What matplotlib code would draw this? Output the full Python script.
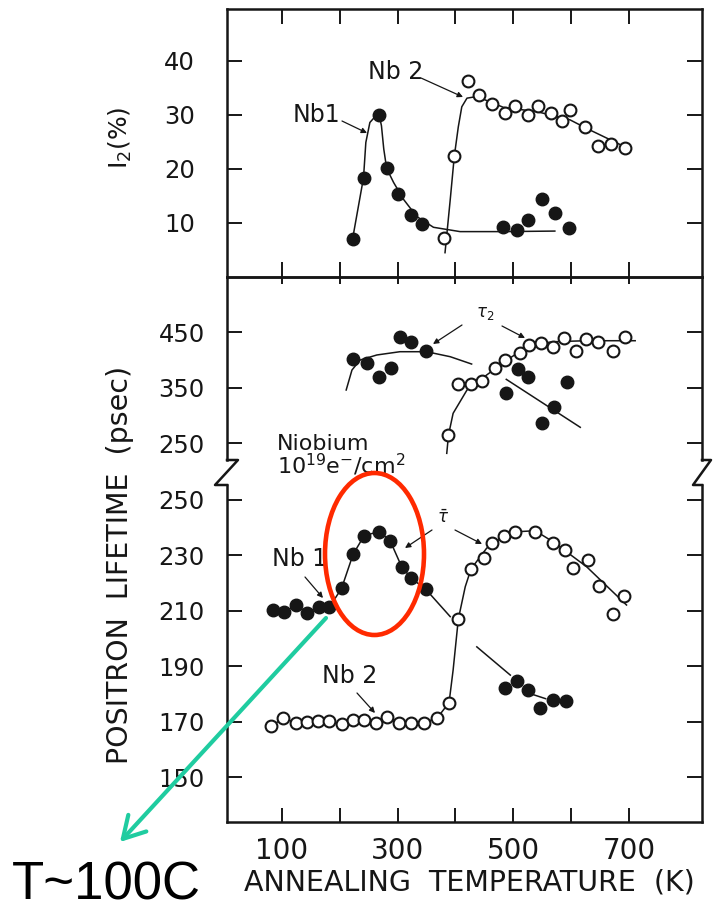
import matplotlib.pyplot as plt
from matplotlib.patches import Ellipse
from matplotlib.lines import Line2D

# ---- I2 (%) vs annealing temperature ----
nb1_i2_T = [222, 241, 268, 281, 301, 323, 343, 482, 506, 526, 549, 572, 597]
nb1_i2 = [7.0, 18.4, 30.0, 20.1, 15.3, 11.5, 9.8, 9.3, 8.7, 10.6, 14.4, 11.8, 9.0]
nb1_i2_fit_T = [222, 241, 245, 252, 262, 268, 272, 276, 281, 293, 310, 333, 362, 408, 483, 572]
nb1_i2_fit = [7.0, 18.4, 24.9, 28.6, 29.8, 30.0, 28.0, 23.7, 20.1, 17.5, 14.4, 11.2, 9.2, 8.4, 8.4, 8.5]

nb2_i2_T = [381, 398, 422, 441, 464, 486, 503, 526, 543, 565, 585, 598, 625, 646, 670, 693]
nb2_i2 = [7.2, 22.4, 36.2, 33.7, 32.0, 30.3, 31.7, 30.0, 31.7, 30.4, 28.9, 31.0, 27.8, 24.3, 24.6, 23.8]
nb2_i2_fit_T = [382, 391, 398, 405, 411, 420, 437, 483, 541, 598, 627, 693]
nb2_i2_fit = [4.5, 14.3, 22.3, 27.8, 31.5, 33.1, 33.4, 31.4, 30.6, 29.1, 27.5, 24.1]

# ---- tau2 (psec) ----
nb1_tau2_T = [223, 247, 268, 289, 304, 324, 349, 488, 508, 526, 549, 571, 593]
nb1_tau2 = [400.8, 393.6, 369.5, 385.8, 441.6, 431.4, 416.4, 339.5, 382.8, 368.3, 286.6, 315.4, 360.5]
nb1_tau2_fit_T = [211, 221, 235, 264, 304, 350, 391, 428]
nb1_tau2_fit = [345.5, 381.5, 399.5, 408.6, 414.5, 414.5, 405.5, 392.3]
nb1_tau2_fit2_T = [488, 616]
nb1_tau2_fit2 = [364.7, 278.3]

nb2_tau2_T = [388, 404, 427, 446, 469, 486, 512, 528, 548, 568, 587, 609, 626, 646, 673, 693]
nb2_tau2 = [264.4, 356.3, 356.3, 362.3, 384.6, 399.5, 412.7, 426.6, 430.8, 423.5, 438.6, 416.4,
            436.8, 432.5, 416.4, 441.6]
nb2_tau2_fit_T = [385, 388, 396, 420, 454, 489, 529, 569, 627, 711]
nb2_tau2_fit = [231.4, 264.4, 303.5, 345.5, 372.5, 399.5, 426.6, 432.5, 434.3, 434.3]

# ---- mean lifetime (psec) ----
nb1_tbar_T = [84, 104, 125, 143, 164, 182, 203, 223, 242, 268, 287, 307, 324, 349,
              486, 506, 526, 546, 568, 591]
nb1_tbar = [210.3, 209.7, 212.1, 209.3, 211.3, 211.3, 218.1, 230.4, 237.1, 238.6, 235.3, 225.9,
            221.7, 217.7, 182.0, 184.8, 181.4, 174.8, 177.8, 177.4]
nb1_tbar_fit_T = [84, 104, 125, 143, 164, 182, 203, 223, 242, 268, 287, 307, 324, 349, 391]
nb1_tbar_fit = [210.3, 209.7, 212.1, 209.3, 211.3, 211.3, 218.1, 230.4, 237.1, 238.6, 235.3,
                225.9, 221.7, 217.7, 207.9]
nb1_tbar_fit2_T = [437, 495]
nb1_tbar_fit2 = [197.0, 186.8]
nb1_tbar_fit3_T = [534, 556]
nb1_tbar_fit3 = [179.8, 178.3]

nb2_tbar_T = [81, 102, 124, 143, 163, 182, 203, 222, 242, 263, 281, 303, 324, 345, 368, 389,
              405, 427, 450, 463, 484, 503, 538, 568, 590, 604, 630, 648, 673, 692]
nb2_tbar = [168.4, 171.2, 169.7, 170.0, 170.3, 170.3, 169.1, 170.6, 170.6, 169.7, 171.8, 169.7,
            169.7, 169.7, 171.2, 176.9, 207.0, 225.1, 229.2, 234.6, 237.0, 238.6, 238.6, 234.6,
            232.0, 225.3, 228.3, 219.1, 208.8, 215.5]
nb2_tbar_fit_T = [81, 102, 124, 143, 163, 182, 203, 222, 242, 263, 281, 303, 324, 345, 368, 389,
                  396, 405, 417, 427, 454, 483, 512, 538, 569, 627, 696]
nb2_tbar_fit = [168.4, 171.2, 169.7, 170.0, 170.3, 170.3, 169.1, 170.6, 170.6, 169.7, 171.8,
                169.7, 169.7, 169.7, 171.2, 176.9, 188.6, 207.0, 218.7, 225.1, 232.6, 236.8,
                238.6, 238.9, 234.9, 225.9, 212.1]

x_ticks = [100, 200, 300, 400, 500, 600, 700]
x_labels = ['100', '', '300', '', '500', '', '700']

W, H = 713, 911
INK = '#161616'


def fxy(x, y):
    # pixel position measured from the top-left corner -> figure fraction
    return x / W, 1 - y / H


fig = plt.figure(figsize=(W / 100, H / 100), dpi=100)
left, width = 227 / W, 475 / W
ax_top = fig.add_axes([left, 1 - 277 / H, width, 268 / H])
ax_mid = fig.add_axes([left, 1 - 460 / H, width, 183 / H])
ax_low = fig.add_axes([left, 1 - 822 / H, width, 337 / H])

for ax in (ax_top, ax_mid, ax_low):
    ax.set_xlim(4.8, 826.6)
    ax.patch.set_alpha(0)
    for sp in ax.spines.values():
        sp.set_linewidth(1.8)
        sp.set_color(INK)
    ax.tick_params(colors=INK, width=1.4, direction='in')
    ax.set_xticks(x_ticks)

ax_top.set_ylim(0, 49.6)
ax_mid.set_ylim(219.4, 549.1)
ax_low.set_ylim(133.8, 255.4)
ax_mid.spines['bottom'].set_visible(False)
ax_low.spines['top'].set_visible(False)

ax_top.tick_params(axis='x', top=True, bottom=True, labelbottom=False, length=11)
ax_top.set_yticks([10, 20, 30, 40])
ax_top.tick_params(axis='y', left=True, right=True, length=11, labelsize=17.5, pad=23)

ax_mid.tick_params(axis='x', top=True, bottom=False, labelbottom=False, length=5)
ax_mid.set_yticks([250, 350, 450])
ax_mid.tick_params(axis='y', left=True, right=True, length=11, labelsize=17.5, pad=16)

ax_low.tick_params(axis='x', top=False, bottom=True, length=10, labelsize=20, pad=11)
ax_low.set_xticklabels(x_labels)
ax_low.set_yticks([150, 170, 190, 210, 230, 250])
ax_low.tick_params(axis='y', left=True, right=True, length=11, labelsize=17.5, pad=16)

line_kw = dict(color=INK, lw=1.1, zorder=2)
full_kw = dict(ls='none', marker='o', ms=9, mfc=INK, mec=INK, zorder=3)
open_kw = dict(ls='none', marker='o', ms=8.5, mfc='white', mec=INK, mew=1.5, zorder=3)

# I2 panel
ax_top.plot(nb1_i2_fit_T, nb1_i2_fit, **line_kw)
ax_top.plot(nb2_i2_fit_T, nb2_i2_fit, **line_kw)
ax_top.plot(nb1_i2_T, nb1_i2, **full_kw)
ax_top.plot(nb2_i2_T, nb2_i2, **open_kw)

# tau2 panel
ax_mid.plot(nb1_tau2_fit_T, nb1_tau2_fit, **line_kw)
ax_mid.plot(nb1_tau2_fit2_T, nb1_tau2_fit2, **line_kw)
ax_mid.plot(nb2_tau2_fit_T, nb2_tau2_fit, **line_kw)
ax_mid.plot(nb1_tau2_T, nb1_tau2, **full_kw)
ax_mid.plot(nb2_tau2_T, nb2_tau2, **open_kw)

# mean lifetime panel
ax_low.plot(nb1_tbar_fit_T, nb1_tbar_fit, **line_kw)
ax_low.plot(nb1_tbar_fit2_T, nb1_tbar_fit2, **line_kw)
ax_low.plot(nb1_tbar_fit3_T, nb1_tbar_fit3, **line_kw)
ax_low.plot(nb2_tbar_fit_T, nb2_tbar_fit, **line_kw)
ax_low.plot(nb1_tbar_T, nb1_tbar, **full_kw)
ax_low.plot(nb2_tbar_T, nb2_tbar, **open_kw)

# axis break marks on both sides
for xs in ([227, 238, 215, 227], [702, 711, 693, 702]):
    pts = [fxy(x, y) for x, y in zip(xs, [460, 460, 485, 485])]
    fig.add_artist(Line2D([p[0] for p in pts], [p[1] for p in pts],
                          transform=fig.transFigure, color=INK, lw=1.8))

# labels
fig.text(*fxy(120, 138), r'I$_2$(%)', rotation=90, fontsize=18, color=INK,
         ha='center', va='center')
fig.text(*fxy(120, 565), 'POSITRON  LIFETIME  (psec)', rotation=90, fontsize=20.5,
         color=INK, ha='center', va='center')
fig.text(*fxy(469, 882), 'ANNEALING  TEMPERATURE  (K)', fontsize=20.5, color=INK,
         ha='center', va='center')


def tag(text, pos, size=17):
    fig.text(*fxy(*pos), text, fontsize=size, color=INK, ha='center', va='center')


def pointer(start, end):
    ax_top.annotate('', xy=fxy(*end), xytext=fxy(*start), xycoords='figure fraction',
                    textcoords='figure fraction',
                    arrowprops=dict(arrowstyle='-|>', color=INK, lw=0.9, mutation_scale=8,
                                    shrinkA=0, shrinkB=0))


tag('Nb 2', (396, 72))
pointer((421, 78), (463, 97))
tag('Nb1', (316, 115))
pointer((342, 121), (367, 133))

tag(r'$\tau_2$', (485, 313), size=12)
pointer((462, 325), (433, 344))
pointer((502, 326), (525, 338))

fig.text(*fxy(277, 450), 'Niobium', fontsize=16, color=INK, va='baseline')
fig.text(*fxy(277, 474), r'10$^{19}$e$^{-}$/cm$^{2}$', fontsize=16, color=INK, va='baseline')

tag('Nb 1', (300, 559))
pointer((305, 577), (323, 598))
tag('Nb 2', (350, 676))
pointer((357, 693), (375, 713))
tag(r'$\bar{\tau}$', (443, 518), size=12)
pointer((432, 530), (405, 548))
pointer((455, 530), (482, 544))

# highlight around the lifetime peak
cx, cy = fxy(374.5, 554)
fig.add_artist(Ellipse((cx, cy), 99 / W, 162 / H, transform=fig.transFigure,
                       fill=False, ec='#ff2a00', lw=3.3, zorder=10))

ax_low.annotate('', xy=fxy(120, 842), xytext=fxy(326, 618), xycoords='figure fraction',
                textcoords='figure fraction', annotation_clip=False,
                arrowprops=dict(arrowstyle='->,head_length=0.7,head_width=0.4',
                                mutation_scale=22, color='#1fcca0', lw=3.0,
                                shrinkA=0, shrinkB=0), zorder=11)

fig.text(*fxy(12, 886), 'T~100C', fontsize=38, family='Liberation Sans', color='black',
         ha='left', va='center')

fig.savefig('out.png', dpi=100)
